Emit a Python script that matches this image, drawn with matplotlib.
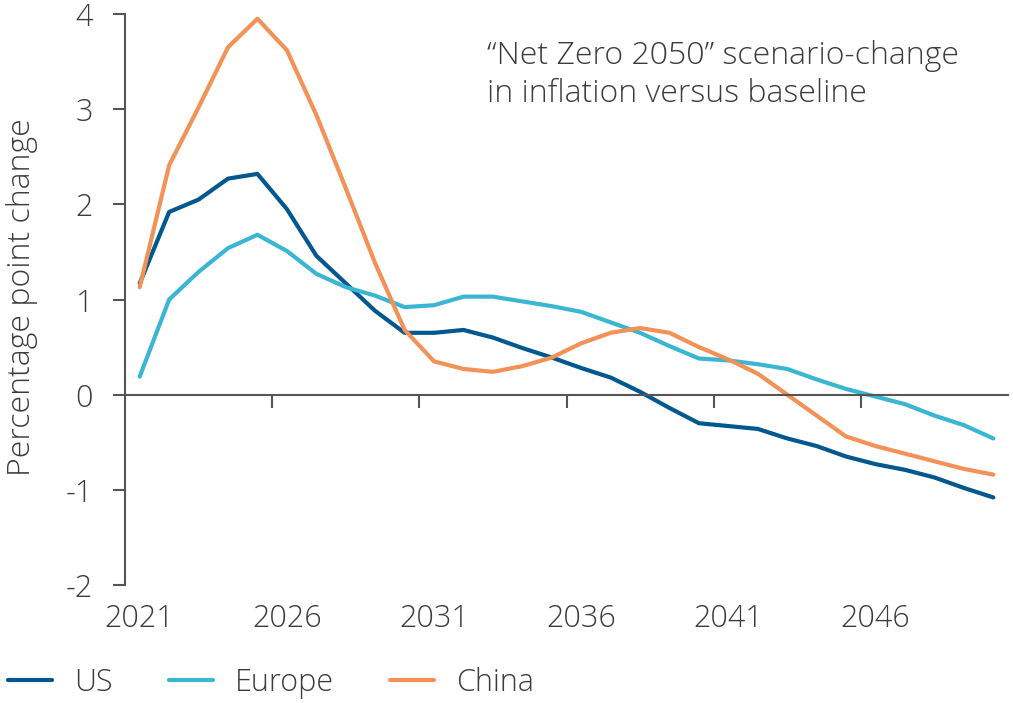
import numpy as np
import matplotlib.pyplot as plt

plt.rcParams['font.family'] = ['Open Sans', 'DejaVu Sans']
plt.rcParams['font.weight'] = 'light'

# Data: change in inflation vs baseline (percentage points)
years = list(range(2021, 2051))
us = [1.17, 1.92, 2.05, 2.27, 2.32, 1.95, 1.46, 1.17, 0.88, 0.65,
      0.65, 0.68, 0.60, 0.49, 0.39, 0.28, 0.18, 0.03, -0.14, -0.30,
      -0.33, -0.36, -0.46, -0.54, -0.65, -0.73, -0.79, -0.87, -0.98, -1.08]
europe = [0.19, 1.00, 1.29, 1.54, 1.68, 1.51, 1.27, 1.13, 1.04, 0.92,
          0.94, 1.03, 1.03, 0.98, 0.93, 0.87, 0.76, 0.65, 0.51, 0.38,
          0.36, 0.32, 0.27, 0.16, 0.06, -0.02, -0.10, -0.22, -0.32, -0.46]
china = [1.13, 2.41, 3.02, 3.65, 3.95, 3.62, 2.94, 2.17, 1.38, 0.68,
         0.35, 0.27, 0.24, 0.30, 0.39, 0.54, 0.65, 0.70, 0.65, 0.50,
         0.37, 0.22, 0.00, -0.22, -0.44, -0.54, -0.62, -0.70, -0.78, -0.84]
label_years = [2021, 2026, 2031, 2036, 2041, 2046]
y_ticks = [-2, -1, 0, 1, 2, 3, 4]

c_us = '#00588f'
c_eu = '#3ab6d3'
c_cn = '#f39157'
grey = '#3c3c3c'
axis_grey = '#555555'

fig = plt.figure(figsize=(10.13, 7.03), dpi=100)
ax = fig.add_axes([125 / 1013, 118 / 703, 883 / 1013, 571 / 703])

ax.plot(years, us, color=c_us, lw=3, label='US', solid_capstyle='round')
ax.plot(years, europe, color=c_eu, lw=3, label='Europe', solid_capstyle='round')
ax.plot(years, china, color=c_cn, lw=3, label='China', solid_capstyle='round')

ax.set_xlim(years[0] - 0.5, years[-1] + 0.5)
ax.set_ylim(-2, 4)

for s in ['top', 'right']:
    ax.spines[s].set_visible(False)
ax.spines['left'].set_color(axis_grey)
ax.spines['left'].set_linewidth(1.5)
ax.spines['bottom'].set_position(('data', 0))
ax.spines['bottom'].set_color(axis_grey)
ax.spines['bottom'].set_linewidth(1.5)

ax.set_yticks(y_ticks)
ax.set_yticklabels([str(v) for v in y_ticks])
ax.tick_params(axis='y', direction='out', length=9, width=1.5, color=axis_grey,
               labelsize=22, labelcolor=grey, pad=14)

# category boundaries as ticks, labels at category centres below the plot
ax.set_xticks([y - 0.5 for y in label_years[1:]])
ax.set_xticklabels([])
ax.tick_params(axis='x', direction='out', length=9, width=1.5, color=axis_grey)
for y in label_years:
    ax.text(y, -2.36, str(y), ha='center', va='center', fontsize=22,
            color=grey, clip_on=False)

fig.text(22 / 1013, 1 - 297 / 703, 'Percentage point change', rotation=90,
         ha='center', va='center', fontsize=23, color=grey)

fig.text(487 / 1013, 1 - 75 / 703,
         '\u201cNet Zero 2050\u201d scenario-change\nin inflation versus baseline',
         ha='left', va='center', fontsize=23, color=grey, linespacing=1.25)

fig.legend(loc='center left', bbox_to_anchor=(8 / 1013, 1 - 683 / 703), ncol=3,
           frameon=False, fontsize=22, labelcolor=grey, handlelength=1.45,
           handletextpad=0.7, columnspacing=1.85, borderaxespad=0, borderpad=0)

fig.savefig('out.png', dpi=100)
